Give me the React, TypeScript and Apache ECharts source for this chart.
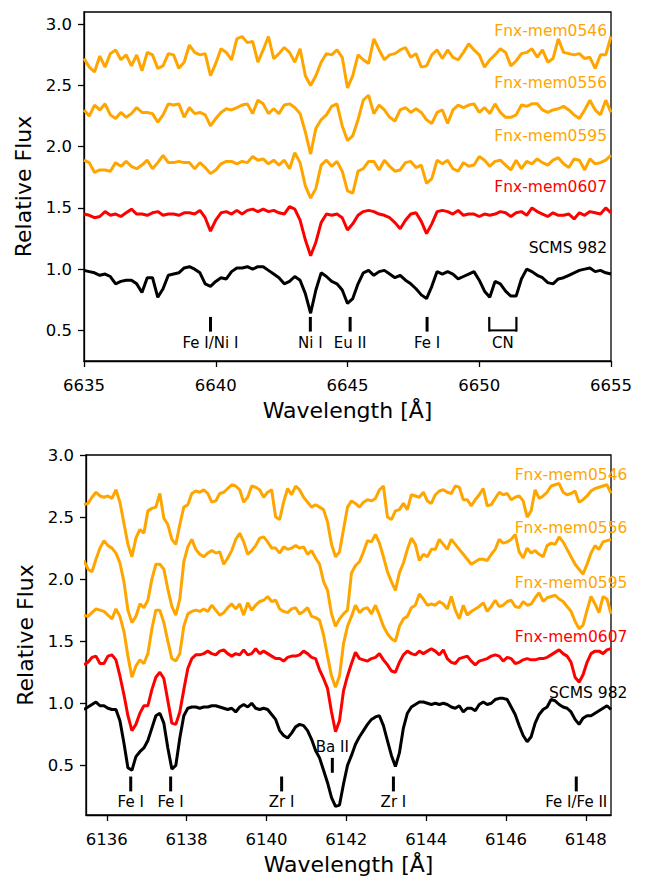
import React, { useEffect, useRef } from "react";
import * as echarts from "echarts";

// ---------- data ----------
const topStart = 6635;
const topStep = 0.2;
const botStart = 6135.43;
const botStep = 0.1;

const top0546 = [2.72,2.65,2.61,2.74,2.65,2.76,2.79,2.71,2.75,2.66,2.75,2.62,2.77,2.75,2.64,2.66,2.76,2.75,2.64,2.69,2.83,2.77,2.75,2.76,2.58,2.68,2.80,2.77,2.71,2.88,2.90,2.85,2.86,2.69,2.79,2.90,2.72,2.76,2.81,2.77,2.69,2.80,2.58,2.50,2.58,2.69,2.76,2.75,2.79,2.73,2.48,2.58,2.75,2.71,2.68,
2.88,2.79,2.71,2.75,2.76,2.79,2.81,2.73,2.76,2.65,2.66,2.75,2.79,2.72,2.79,2.73,2.71,2.77,2.84,2.79,2.75,2.65,2.71,2.75,2.80,2.77,2.66,2.70,2.76,2.77,2.80,2.73,2.79,2.69,2.72,2.88,2.77,2.76,2.75,2.76,2.72,2.73,2.64,2.75,2.75,2.90];
const top0556 = [2.30,2.25,2.34,2.30,2.35,2.26,2.23,2.28,2.24,2.27,2.32,2.28,2.28,2.27,2.20,2.26,2.35,2.34,2.35,2.24,2.32,2.27,2.28,2.26,2.17,2.23,2.28,2.31,2.30,2.32,2.34,2.35,2.27,2.38,2.35,2.27,2.31,2.27,2.34,2.35,2.32,2.27,2.12,1.94,2.15,2.22,2.26,2.33,2.35,2.17,2.05,2.09,2.22,2.38,2.42,
2.27,2.34,2.30,2.24,2.21,2.30,2.32,2.28,2.31,2.28,2.22,2.19,2.28,2.30,2.19,2.30,2.34,2.32,2.34,2.35,2.28,2.32,2.27,2.35,2.28,2.24,2.24,2.26,2.34,2.33,2.35,2.35,2.30,2.28,2.30,2.31,2.33,2.30,2.26,2.23,2.30,2.38,2.30,2.26,2.38,2.28];
const top0595 = [1.89,1.87,1.79,1.81,1.81,1.80,1.87,1.84,1.88,1.84,1.82,1.85,1.89,1.82,1.87,1.93,1.87,1.87,1.88,1.87,1.87,1.82,1.87,1.83,1.78,1.81,1.86,1.88,1.88,1.86,1.88,1.87,1.92,1.89,1.90,1.86,1.89,1.85,1.89,1.82,1.95,1.87,1.68,1.58,1.66,1.85,1.89,1.84,1.88,1.80,1.64,1.62,1.80,1.82,1.88,
1.88,1.81,1.89,1.84,1.80,1.81,1.87,1.88,1.83,1.85,1.70,1.74,1.89,1.86,1.89,1.82,1.80,1.87,1.84,1.85,1.92,1.89,1.84,1.88,1.89,1.85,1.81,1.89,1.82,1.88,1.86,1.90,1.87,1.85,1.89,1.91,1.86,1.83,1.90,1.89,1.81,1.90,1.86,1.87,1.89,1.93];
const top0607 = [1.45,1.44,1.42,1.43,1.47,1.44,1.45,1.43,1.46,1.49,1.45,1.45,1.44,1.46,1.47,1.44,1.45,1.45,1.44,1.46,1.46,1.45,1.48,1.42,1.31,1.40,1.46,1.47,1.45,1.48,1.45,1.48,1.49,1.47,1.49,1.47,1.48,1.46,1.45,1.51,1.49,1.40,1.24,1.11,1.22,1.38,1.45,1.44,1.45,1.42,1.32,1.37,1.44,1.47,1.48,
1.47,1.45,1.44,1.42,1.38,1.33,1.40,1.45,1.46,1.39,1.29,1.37,1.47,1.48,1.47,1.45,1.48,1.44,1.45,1.45,1.43,1.45,1.44,1.45,1.47,1.46,1.43,1.46,1.47,1.44,1.50,1.47,1.45,1.43,1.46,1.44,1.44,1.45,1.41,1.46,1.44,1.47,1.46,1.45,1.50,1.46];
const topSCMS = [0.99,0.98,0.97,0.95,0.96,0.94,0.88,0.90,0.91,0.91,0.88,0.81,0.93,0.93,0.77,0.84,0.95,0.96,0.97,1.01,1.02,1.00,0.97,0.88,0.86,0.90,0.93,0.92,0.98,1.01,1.01,1.02,1.00,1.02,1.02,0.99,0.96,0.93,0.88,0.90,0.94,0.91,0.80,0.64,0.83,0.97,0.94,0.90,0.88,0.83,0.72,0.76,0.88,0.97,0.99,
0.95,0.98,0.99,0.96,0.93,0.95,0.91,0.88,0.84,0.79,0.76,0.86,0.98,0.96,0.98,0.96,0.92,0.94,0.96,0.98,0.91,0.82,0.77,0.90,0.88,0.82,0.78,0.78,0.92,1.00,0.98,0.95,0.93,0.89,0.88,0.92,0.93,0.95,0.97,0.99,1.00,1.01,0.98,0.99,0.97,0.96];

const bot0546 = [2.60,2.61,2.66,2.70,2.67,2.66,2.67,2.65,2.72,2.62,2.45,2.28,2.18,2.33,2.40,2.37,2.55,2.57,2.58,2.69,2.49,2.44,2.32,2.28,2.44,2.58,2.60,2.69,2.71,2.70,2.72,2.69,2.62,2.63,2.69,2.70,2.73,2.76,2.75,2.72,2.62,2.66,2.75,2.74,2.72,2.66,2.70,2.72,2.50,2.48,2.62,2.73,2.68,2.75,2.72,2.66,2.62,2.58,2.60,2.58,2.56,2.46,2.28,2.18,2.22,2.40,2.58,2.63,2.61,2.58,2.62,2.64,2.63,2.65,2.72,2.75,2.50,2.48,2.55,2.56,2.61,2.56,2.68,2.67,2.66,2.70,2.63,2.61,2.68,2.71,2.72,2.70,2.69,2.75,2.74,2.64,2.64,2.59,2.64,2.68,2.73,2.59,2.60,2.65,2.70,2.68,2.69,2.64,2.66,2.67,2.63,2.50,2.55,2.72,2.65,2.67,2.70,2.75,2.76,2.77,2.70,2.68,2.69,2.71,2.62,2.64,2.67,2.71,2.73,2.74,2.75,2.76,2.69];
const bot0556 = [2.15,2.08,2.06,2.16,2.25,2.31,2.27,2.25,2.21,2.13,1.98,1.75,1.65,1.70,1.80,1.77,1.83,2.00,2.12,2.12,2.08,1.92,1.78,1.71,1.84,2.14,2.26,2.32,2.24,2.20,2.18,2.21,2.23,2.21,2.22,2.12,2.17,2.23,2.32,2.37,2.30,2.20,2.23,2.27,2.33,2.34,2.30,2.25,2.25,2.21,2.26,2.24,2.25,2.27,2.25,2.26,2.20,2.23,2.17,2.12,1.98,1.91,1.72,1.62,1.68,1.72,1.75,2.05,2.11,2.14,2.22,2.31,2.30,2.36,2.29,2.18,2.06,1.98,1.91,2.05,2.13,2.24,2.33,2.28,2.15,2.20,2.18,2.24,2.24,2.32,2.28,2.24,2.32,2.28,2.24,2.20,2.16,2.12,2.14,2.16,2.16,2.15,2.20,2.24,2.32,2.29,2.30,2.32,2.36,2.22,2.17,2.25,2.21,2.23,2.20,2.18,2.27,2.29,2.28,2.34,2.30,2.24,2.18,2.12,2.08,2.04,2.12,2.21,2.27,2.24,2.30,2.31,2.32];
const bot0595 = [1.71,1.70,1.73,1.76,1.75,1.74,1.71,1.68,1.76,1.70,1.58,1.38,1.21,1.30,1.35,1.32,1.40,1.60,1.75,1.75,1.65,1.50,1.36,1.34,1.40,1.62,1.72,1.74,1.75,1.74,1.76,1.74,1.79,1.75,1.71,1.73,1.77,1.80,1.76,1.80,1.71,1.81,1.75,1.79,1.82,1.83,1.86,1.82,1.83,1.76,1.74,1.73,1.76,1.77,1.72,1.74,1.77,1.70,1.69,1.67,1.55,1.38,1.22,1.13,1.22,1.48,1.62,1.70,1.79,1.73,1.76,1.77,1.72,1.79,1.71,1.62,1.56,1.52,1.50,1.62,1.68,1.70,1.77,1.79,1.88,1.84,1.79,1.80,1.79,1.82,1.80,1.76,1.86,1.75,1.68,1.79,1.71,1.74,1.76,1.78,1.81,1.74,1.78,1.83,1.78,1.79,1.82,1.83,1.78,1.77,1.82,1.79,1.80,1.85,1.89,1.82,1.85,1.86,1.87,1.84,1.82,1.78,1.74,1.66,1.60,1.63,1.75,1.86,1.80,1.73,1.86,1.84,1.72];
const bot0607 = [1.31,1.33,1.37,1.38,1.32,1.32,1.38,1.39,1.35,1.22,1.07,0.90,0.78,0.83,0.92,0.98,0.98,1.11,1.21,1.25,1.20,1.02,0.84,0.83,0.93,1.11,1.28,1.36,1.39,1.39,1.40,1.42,1.40,1.39,1.42,1.43,1.40,1.38,1.40,1.39,1.43,1.39,1.40,1.44,1.40,1.42,1.40,1.38,1.36,1.36,1.34,1.37,1.38,1.38,1.39,1.42,1.40,1.37,1.36,1.27,1.20,1.12,0.93,0.77,0.86,1.10,1.22,1.32,1.41,1.36,1.35,1.34,1.36,1.37,1.40,1.35,1.31,1.26,1.25,1.33,1.39,1.42,1.40,1.39,1.42,1.40,1.42,1.44,1.42,1.39,1.43,1.36,1.33,1.32,1.36,1.37,1.38,1.34,1.31,1.34,1.35,1.36,1.38,1.39,1.38,1.34,1.37,1.36,1.32,1.33,1.35,1.36,1.35,1.35,1.36,1.36,1.37,1.39,1.41,1.43,1.40,1.38,1.33,1.21,1.17,1.23,1.33,1.40,1.42,1.42,1.40,1.43,1.44];
const botSCMS = [0.95,0.97,0.99,1.01,0.98,0.98,0.96,0.95,0.95,0.86,0.68,0.48,0.46,0.57,0.61,0.64,0.70,0.80,0.90,0.92,0.84,0.64,0.47,0.50,0.72,0.90,0.96,0.97,0.97,0.96,0.97,0.97,0.98,0.98,0.97,0.96,0.95,0.96,0.93,0.97,0.99,0.97,1.00,0.96,0.95,0.96,0.95,0.91,0.87,0.78,0.74,0.72,0.76,0.81,0.83,0.82,0.78,0.71,0.62,0.56,0.46,0.36,0.24,0.17,0.18,0.35,0.50,0.58,0.67,0.73,0.78,0.83,0.87,0.89,0.90,0.82,0.70,0.58,0.49,0.60,0.80,0.92,0.97,0.99,1.01,1.01,1.00,0.99,1.00,0.99,1.00,0.99,0.97,0.96,0.98,0.93,0.96,0.96,0.94,0.99,1.01,0.99,1.00,1.03,1.04,1.04,1.03,0.97,0.91,0.82,0.74,0.69,0.73,0.84,0.91,0.95,0.97,1.03,1.02,0.99,0.97,0.96,0.93,0.87,0.83,0.88,0.90,0.90,0.92,0.94,0.96,0.98,0.95];

const starNames = ["Fnx-mem0546", "Fnx-mem0556", "Fnx-mem0595", "Fnx-mem0607", "SCMS 982"];
const ORANGE = "#ffa500";
const RED = "#ff0000";
const BLACK = "#000000";
const starColors = [ORANGE, ORANGE, ORANGE, RED, BLACK];
const topSeries = [top0546, top0556, top0595, top0607, topSCMS];
const botSeries = [bot0546, bot0556, bot0595, bot0607, botSCMS];

// label anchor (data coords): right end x, centre y
const topLabelX = 6654.85;
const topLabelY = [2.945, 2.52, 2.085, 1.67, 1.17];
const botLabelX = 6149.04;
const botLabelY = [2.84, 2.41, 1.97, 1.535, 1.08];

// line identifications
const topLineNames = ["Fe I/Ni I", "Ni I", "Eu II", "Fe I"];
const topLineWaves = [6639.8, 6643.59, 6645.1, 6648.02];
const cnName = "CN";
const cnWaves = [6650.38, 6651.41];
const botLineNames = ["Fe I", "Fe I", "Zr I", "Ba II", "Zr I", "Fe I/Fe II"];
const botLineWaves = [6136.6, 6137.6, 6140.38, 6141.65, 6143.18, 6147.76];
const botLineRaised = [false, false, false, true, false, false];

const topXTicks = [6635, 6640, 6645, 6650, 6655];
const botXTicks = [6136, 6138, 6140, 6142, 6144, 6146, 6148];
const yTicks = [0.5, 1.0, 1.5, 2.0, 2.5, 3.0];

const FONT = "DejaVu Sans";

function toPairs(start: number, step: number, vals: number[]) {
  return vals.map((v, i) => [+(start + i * step).toFixed(3), v]);
}

function xAxisCfg(grid: number, min: number, max: number, ticks: number[]) {
  return {
    type: "value",
    gridIndex: grid,
    min,
    max,
    name: "Wavelength [Å]",
    nameLocation: "middle",
    nameGap: 38,
    nameTextStyle: { fontSize: 22, color: "#000", fontFamily: FONT },
    axisLine: { show: true, onZero: false, lineStyle: { color: "#000", width: 1.3 } },
    axisTick: { show: true, length: 6, inside: false, customValues: ticks, lineStyle: { color: "#000", width: 1.3 } },
    axisLabel: {
      show: true,
      customValues: ticks,
      fontSize: 16.5,
      color: "#000",
      fontFamily: FONT,
      margin: 16,
      formatter: (v: number) => String(Math.round(v)),
    },
    splitLine: { show: false },
  };
}

function yAxisCfg(grid: number, min: number, max: number) {
  return {
    type: "value",
    gridIndex: grid,
    min,
    max,
    name: "Relative Flux",
    nameLocation: "middle",
    nameGap: 47,
    nameTextStyle: { fontSize: 22, color: "#000", fontFamily: FONT },
    axisLine: { show: true, onZero: false, lineStyle: { color: "#000", width: 1.3 } },
    axisTick: { show: true, length: 6, inside: false, customValues: yTicks, lineStyle: { color: "#000", width: 1.3 } },
    axisLabel: {
      show: true,
      customValues: yTicks,
      fontSize: 16.5,
      color: "#000",
      fontFamily: FONT,
      margin: 12,
      formatter: (v: number) => v.toFixed(1),
    },
    splitLine: { show: false },
  };
}

export default function App() {
  const ref = useRef<HTMLDivElement>(null);

  useEffect(() => {
    if (!ref.current) return;
    const chart = echarts.init(ref.current, null, { renderer: "svg" });

    const series: any[] = [];
    topSeries.forEach((vals, k) => {
      series.push({
        type: "line",
        name: starNames[k] + " (top)",
        xAxisIndex: 0,
        yAxisIndex: 0,
        data: toPairs(topStart, topStep, vals),
        showSymbol: false,
        symbol: "none",
        silent: true,
        clip: true,
        lineStyle: { color: starColors[k], width: 3 },
        z: 2 + k,
      });
    });
    botSeries.forEach((vals, k) => {
      series.push({
        type: "line",
        name: starNames[k] + " (bottom)",
        xAxisIndex: 1,
        yAxisIndex: 1,
        data: toPairs(botStart, botStep, vals),
        showSymbol: false,
        symbol: "none",
        silent: true,
        clip: true,
        lineStyle: { color: starColors[k], width: 3 },
        z: 2 + k,
      });
    });

    chart.setOption({
      animation: false,
      textStyle: { fontFamily: FONT },
      grid: [
        { left: 84, top: 12, width: 527, height: 349, show: true, borderColor: "#000", borderWidth: 1.3, backgroundColor: "transparent" },
        { left: 86, top: 455, width: 525, height: 360, show: true, borderColor: "#000", borderWidth: 1.3, backgroundColor: "transparent" },
      ],
      xAxis: [xAxisCfg(0, 6635, 6655, topXTicks), xAxisCfg(1, 6135.48, 6148.63, botXTicks)],
      yAxis: [yAxisCfg(0, 0.25, 3.1), yAxisCfg(1, 0.1, 3.0)],
      series,
    });

    const px = (g: number, x: number, y: number) => chart.convertToPixel({ gridIndex: g } as any, [x, y]) as number[];
    const graphics: any[] = [];

    const label = (g: number, x: number, y: number, text: string, color: string, size: number, align: string) => {
      const p = px(g, x, y);
      graphics.push({
        type: "text",
        x: p[0],
        y: p[1],
        z: 20,
        silent: true,
        style: { text, fill: color, fontSize: size, fontFamily: FONT, align, verticalAlign: "middle" },
      });
    };
    const vline = (g: number, x: number, y1: number, y2: number, w: number) => {
      const a = px(g, x, y1);
      const b = px(g, x, y2);
      graphics.push({
        type: "line",
        z: 20,
        silent: true,
        shape: { x1: a[0], y1: a[1], x2: b[0], y2: b[1] },
        style: { stroke: "#000", lineWidth: w },
      });
    };

    starNames.forEach((n, k) => {
      label(0, topLabelX, topLabelY[k], n, starColors[k], 15.5, "right");
      label(1, botLabelX, botLabelY[k], n, starColors[k], 15.5, "right");
    });

    // top panel identifications
    topLineNames.forEach((n, k) => {
      vline(0, topLineWaves[k], 0.49, 0.61, 3);
      label(0, topLineWaves[k], 0.395, n, "#000", 15, "center");
    });
    // CN bracket
    vline(0, cnWaves[0], 0.49, 0.61, 2.2);
    vline(0, cnWaves[1], 0.49, 0.61, 2.2);
    {
      const a = px(0, cnWaves[0], 0.5);
      const b = px(0, cnWaves[1], 0.5);
      graphics.push({
        type: "line",
        z: 20,
        silent: true,
        shape: { x1: a[0], y1: a[1], x2: b[0], y2: b[1] },
        style: { stroke: "#000", lineWidth: 2 },
      });
      label(0, (cnWaves[0] + cnWaves[1]) / 2, 0.395, cnName, "#000", 15, "center");
    }

    // bottom panel identifications
    botLineNames.forEach((n, k) => {
      if (botLineRaised[k]) {
        vline(1, botLineWaves[k], 0.44, 0.56, 3);
        label(1, botLineWaves[k], 0.65, n, "#000", 15, "center");
      } else {
        vline(1, botLineWaves[k], 0.29, 0.41, 3);
        label(1, botLineWaves[k], 0.205, n, "#000", 15, "center");
      }
    });

    chart.setOption({ graphic: graphics });

    return () => chart.dispose();
  }, []);

  return (
    <div
      ref={ref}
      style={{ position: "fixed", left: 0, top: 0, width: 651, height: 878, background: "#fff" }}
    />
  );
}
